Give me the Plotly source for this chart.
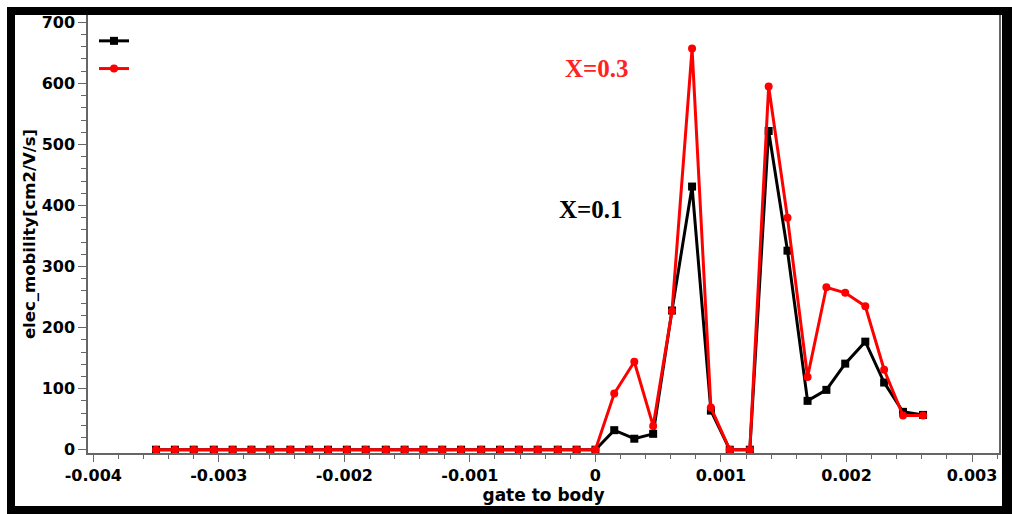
import plotly.graph_objects as go

# ---- data ----
gate_to_body = [-0.00350, -0.00335, -0.00320, -0.00304, -0.00289, -0.00274, -0.00259,
                -0.00243, -0.00228, -0.00213, -0.00198, -0.00183, -0.00167, -0.00152,
                -0.00137, -0.00122, -0.00107, -0.00091, -0.00076, -0.00061, -0.00046,
                -0.00030, -0.00015, 0.0, 0.00015, 0.00031, 0.00046, 0.00061, 0.00077,
                0.00092, 0.00107, 0.00123, 0.00138, 0.00153, 0.00169, 0.00184, 0.00199,
                0.00215, 0.00230, 0.00245, 0.00261]

mobility_x01 = [0]*24 + [32, 18, 26, 228, 431, 64, 0, 0, 522, 326, 80, 98, 141, 177, 110, 62, 57]
mobility_x03 = [0]*24 + [92, 144, 39, 227, 657, 69, 0, 0, 595, 380, 119, 266, 257, 235, 131, 56, 56]

series_names = ["", ""]
annot_labels = ["X=0.3", "X=0.1"]

x_tickvals = [-0.004, -0.003, -0.002, -0.001, 0, 0.001, 0.002, 0.003]
x_ticktext = ["-0.004", "-0.003", "-0.002", "-0.001", "0", "0.001", "0.002", "0.003"]
y_tickvals = [0, 100, 200, 300, 400, 500, 600, 700]

W, H = 1012, 514
L, R, T, B = 88, 13, 15, 61
PW, PH = W - L - R, H - T - B


def px(xp):
    return (xp - L) / PW


def py(yp):
    return (H - B - yp) / PH


fig = go.Figure()
fig.add_trace(go.Scatter(x=gate_to_body, y=mobility_x01, name=series_names[0],
                         mode="lines+markers",
                         line=dict(color="black", width=3),
                         marker=dict(symbol="square", size=8, color="black")))
fig.add_trace(go.Scatter(x=gate_to_body, y=mobility_x03, name=series_names[1],
                         mode="lines+markers",
                         line=dict(color="#ff0000", width=3),
                         marker=dict(symbol="circle", size=8, color="#ff0000")))

tickfont = dict(family="DejaVu Sans", size=16, color="black", weight="bold")
xtitlefont = dict(family="DejaVu Sans", size=17, color="black", weight="bold")
ytitlefont = dict(family="DejaVu Sans", size=16.5, color="black", weight="bold")
fig.update_xaxes(range=[-0.004042, 0.003215], tickvals=x_tickvals, ticktext=x_ticktext,
                 showgrid=False, zeroline=False, showline=True, linecolor="#666666",
                 linewidth=1.5, ticks="outside", ticklen=7, tickcolor="#666666",
                 tickfont=tickfont,
                 minor=dict(dtick=0.0002, ticks="outside", ticklen=4, tickcolor="#666666"),
                 title=dict(text="gate to body", font=xtitlefont, standoff=4))
fig.update_yaxes(range=[-5.4, 712], tickvals=y_tickvals,
                 showgrid=False, zeroline=False, showline=True, linecolor="#666666",
                 linewidth=1.5, mirror=True, ticks="outside", ticklen=8, tickcolor="#666666",
                 tickfont=tickfont,
                 minor=dict(dtick=20, ticks="outside", ticklen=5, tickcolor="#666666"),
                 title=dict(text="elec_mobility[cm2/V/s]", font=ytitlefont, standoff=2))

annfont = dict(family="Liberation Serif", size=25, weight="bold")
fig.add_annotation(x=0.000014, y=625, text=annot_labels[0], showarrow=False,
                   font=dict(color="#ff2222", **annfont))
fig.add_annotation(x=-0.000038, y=393, text=annot_labels[1], showarrow=False,
                   font=dict(color="black", **annfont))

# decorative frame around the picture
frame = [(7, 7, 1012, 15), (7, 7, 15, 514), (1002, 7, 1012, 514), (7, 506, 1012, 514)]
for x0, y0, x1, y1 in frame:
    fig.add_shape(type="rect", xref="paper", yref="paper",
                  x0=px(x0), x1=px(x1), y0=py(y1), y1=py(y0),
                  fillcolor="black", line=dict(width=0), layer="above")

fig.update_layout(width=W, height=H, margin=dict(l=L, r=R, t=T, b=B),
                  paper_bgcolor="white", plot_bgcolor="white",
                  showlegend=True,
                  legend=dict(x=px(94), y=py(22), xanchor="left", yanchor="top",
                              bgcolor="rgba(0,0,0,0)", font=dict(size=19),
                              tracegroupgap=0))

fig.write_html("out.html")
